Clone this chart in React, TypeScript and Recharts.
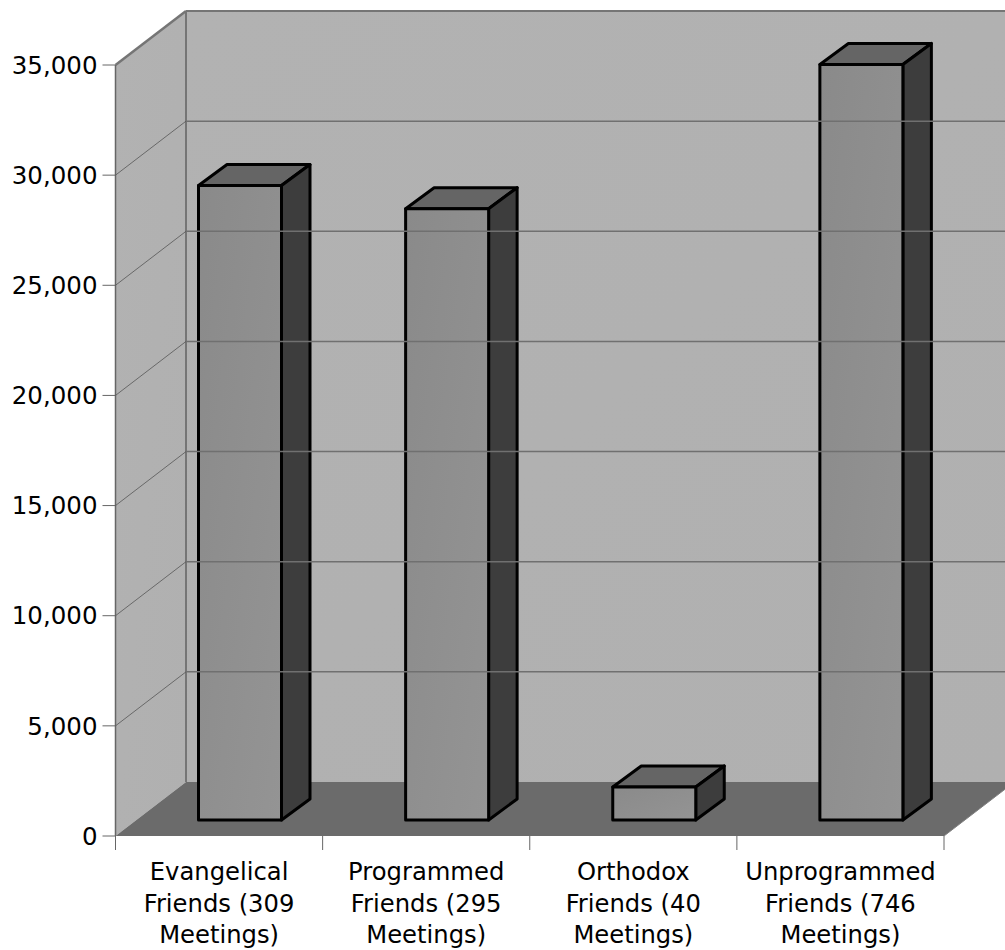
import React from 'react';
import { BarChart, Bar, XAxis, YAxis, ReferenceArea } from 'recharts';

// Friends membership by branch
const categoryLabels = [
  ['Evangelical', 'Friends (309', 'Meetings)'],
  ['Programmed', 'Friends (295', 'Meetings)'],
  ['Orthodox', 'Friends (40', 'Meetings)'],
  ['Unprogrammed', 'Friends (746', 'Meetings)'],
];
const categories = ['Evangelical', 'Programmed', 'Orthodox', 'Unprogrammed'];
const members = [28800, 27750, 1500, 34300];
const yTicks = [0, 5000, 10000, 15000, 20000, 25000, 30000, 35000];

const rows = categories.map((name, i) => ({ name, members: members[i] }));

// Oblique projection used for the walls and the bar boxes
const WALL_DX = 70.5;
const WALL_DY = -54;
const BAR_DX = 21;
const BAR_DY = -16;
const BOX_DX = 28.5;
const BOX_DY = -21;
const PLOT_WIDTH = 828.5;

const FONT = '"DejaVu Sans", sans-serif';
const VALUE_FONT_SIZE = 24.5;
const CATEGORY_FONT_SIZE = 24.25;
const FRAME = '#757575';
const GRID = '#707070';

const Walls = (props: any) => {
  const { x, y, width, height } = props;
  const r = x + width;
  const b = y + height;
  const band = width / categories.length;
  return (
    <g>
      <polygon
        points={`${x + WALL_DX},${y + WALL_DY} ${r + WALL_DX},${y + WALL_DY} ${r + WALL_DX},${b + WALL_DY} ${x + WALL_DX},${b + WALL_DY}`}
        fill="url(#wallShade)"
      />
      <polygon
        points={`${x},${y} ${x + WALL_DX},${y + WALL_DY} ${x + WALL_DX},${b + WALL_DY} ${x},${b}`}
        fill="url(#wallShade)"
      />
      <polygon
        points={`${x},${b} ${r},${b} ${r + WALL_DX},${b + WALL_DY} ${x + WALL_DX},${b + WALL_DY}`}
        fill="#6b6b6b"
      />
      <line x1={r} y1={b} x2={r + WALL_DX} y2={b + WALL_DY} stroke="#808080" strokeWidth={1} />
      <line x1={x} y1={y} x2={x} y2={b} stroke="#666666" strokeWidth={1.5} />
      <line x1={x + WALL_DX} y1={y + WALL_DY} x2={x + WALL_DX} y2={b + WALL_DY} stroke={FRAME} strokeWidth={2} />
      <line x1={x} y1={y} x2={x + WALL_DX} y2={y + WALL_DY} stroke={FRAME} strokeWidth={2.5} />
      <line x1={x + WALL_DX} y1={y + WALL_DY} x2={r + WALL_DX} y2={y + WALL_DY} stroke={FRAME} strokeWidth={2} />
      {Array.from({ length: categories.length + 1 }, (_, i) => (
        <line key={i} x1={x + band * i} y1={b} x2={x + band * i} y2={b + 14} stroke="#666666" strokeWidth={1} />
      ))}
    </g>
  );
};

// Value label plus the wall line for this tick: a diagonal across the side wall, then along the back wall
const ValueTick = (props: any) => {
  const { x, y, payload } = props;
  const wallX = x + 18;
  const inner = payload.value > 0 && payload.value < 35000;
  return (
    <g>
      {inner && (
        <g>
          <line x1={wallX} y1={y} x2={wallX + WALL_DX} y2={y + WALL_DY} stroke="#555555" strokeWidth={0.8} />
          <line
            x1={wallX + WALL_DX}
            y1={y + WALL_DY}
            x2={wallX + WALL_DX + PLOT_WIDTH}
            y2={y + WALL_DY}
            stroke={GRID}
            strokeWidth={1.5}
          />
        </g>
      )}
      <text x={x} y={y} dy="0.355em" textAnchor="end" fontFamily={FONT} fontSize={VALUE_FONT_SIZE} fill="#000000">
        {payload.value.toLocaleString('en-US')}
      </text>
    </g>
  );
};

const BoxBar = (props: any) => {
  const { x, y, width, height } = props;
  const l = x + BAR_DX;
  const r = l + width;
  const t = y + BAR_DY;
  const b = t + height;
  const edge = { stroke: '#000000', strokeWidth: 3, strokeLinejoin: 'round' as const };
  return (
    <g>
      <polygon
        points={`${l},${t} ${r},${t} ${r + BOX_DX},${t + BOX_DY} ${l + BOX_DX},${t + BOX_DY}`}
        fill="#656565"
        {...edge}
      />
      <polygon
        points={`${r},${t} ${r + BOX_DX},${t + BOX_DY} ${r + BOX_DX},${b + BOX_DY} ${r},${b}`}
        fill="#3d3d3d"
        {...edge}
      />
      <rect x={l} y={t} width={width} height={height} fill="url(#barShade)" {...edge} />
    </g>
  );
};

const CategoryTick = (props: any) => {
  const { x, index } = props;
  const lines = categoryLabels[index] ?? [];
  return (
    <text textAnchor="middle" fontFamily={FONT} fontSize={CATEGORY_FONT_SIZE} fill="#000000">
      {lines.map((line, i) => (
        <tspan key={i} x={x} y={880 + i * 31.5}>
          {line}
        </tspan>
      ))}
    </text>
  );
};

export default function App() {
  return (
    <div style={{ position: 'absolute', left: 0, top: 0, width: 1005, height: 950, background: '#ffffff' }}>
      <BarChart
        width={1005}
        height={950}
        data={rows}
        margin={{ top: 65, right: 61, bottom: 0, left: 0 }}
        barSize={83}
      >
        <defs>
          <linearGradient id="wallShade" x1="0" y1="0" x2="1" y2="1">
            <stop offset="0" stopColor="#b2b2b2" />
            <stop offset="1" stopColor="#b0b0b0" />
          </linearGradient>
          <linearGradient id="barShade" x1="0" y1="0" x2="1" y2="1">
            <stop offset="0" stopColor="#8a8a8a" />
            <stop offset="1" stopColor="#949494" />
          </linearGradient>
        </defs>
        <ReferenceArea
          x1={categories[0]}
          x2={categories[categories.length - 1]}
          y1={0}
          y2={35000}
          ifOverflow="visible"
          shape={(p: any) => <Walls x={p.x} y={p.y} width={p.width} height={p.height} />}
        />
        <XAxis dataKey="name" axisLine={false} tickLine={false} height={114} interval={0} tick={<CategoryTick />} />
        <YAxis
          width={115.5}
          domain={[0, 35000]}
          ticks={yTicks}
          interval={0}
          axisLine={false}
          tickSize={13}
          tickMargin={5}
          tickLine={{ stroke: '#666666', strokeWidth: 1 }}
          tick={<ValueTick />}
        />
        <Bar dataKey="members" isAnimationActive={false} shape={<BoxBar />} />
      </BarChart>
    </div>
  );
}
